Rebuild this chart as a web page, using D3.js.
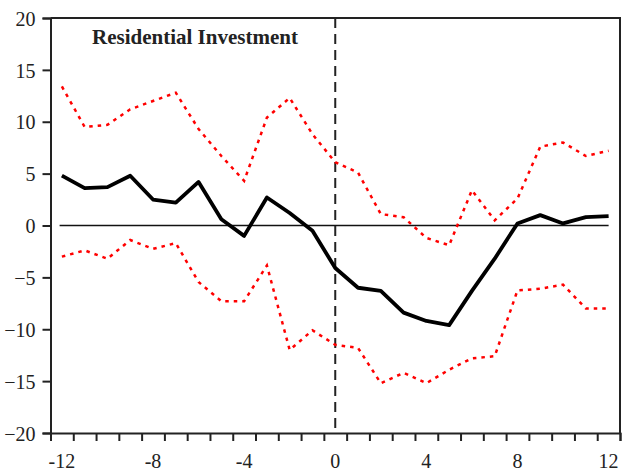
<!DOCTYPE html>
<html>
<head>
<meta charset="utf-8">
<script src="https://cdn.jsdelivr.net/npm/d3@7"></script>
<style>
  body { margin: 0; background: #fff; }
  svg text { font-family: "Liberation Serif", "Times New Roman", serif; fill: #222; }
</style>
</head>
<body>
<svg id="chart" width="622" height="472"></svg>
<script>
// quarters around the event
var quarters = [-12,-11,-10,-9,-8,-7,-6,-5,-4,-3,-2,-1,0,1,2,3,4,5,6,7,8,9,10,11,12];
// point estimate (solid black)
var estimate = [4.8,3.6,3.7,4.8,2.5,2.2,4.2,0.6,-1.0,2.7,1.2,-0.5,-4.1,-6.0,-6.3,-8.4,-9.2,-9.6,-6.3,-3.2,0.2,1.0,0.2,0.8,0.9];
// upper and lower bands (red dotted)
var upper = [13.4,9.5,9.7,11.2,12.0,12.8,9.3,6.7,4.3,10.4,12.3,8.8,6.1,5.1,1.1,0.8,-1.2,-1.9,3.4,0.5,2.6,7.6,8.0,6.7,7.2];
var lower = [-3.0,-2.4,-3.2,-1.4,-2.25,-1.7,-5.45,-7.3,-7.3,-3.85,-12.0,-10.1,-11.5,-11.8,-15.2,-14.2,-15.2,-13.9,-12.8,-12.6,-6.25,-6.1,-5.7,-8.0,-8.0];
var yTicks = [-20,-15,-10,-5,0,5,10,15,20];
var xTicks = [-12,-8,-4,0,4,8,12];
var title = "Residential Investment";

var svg = d3.select("#chart");

var x = d3.scaleLinear().domain([-12.5, 12.5]).range([50.5, 620]);
var y = d3.scaleLinear().domain([-20, 20]).range([433, 18]);

// frame (top and right)
svg.append("path")
  .attr("d", "M" + x(-12.5) + "," + y(20) + "H" + x(12.5) + "V" + y(-20))
  .attr("fill", "none")
  .attr("stroke", "#222")
  .attr("stroke-width", 2);

// y axis
var yAxis = svg.append("g")
  .attr("transform", "translate(" + x(-12.5) + ",0)")
  .call(d3.axisLeft(y).tickValues(yTicks).tickSize(8).tickPadding(7));
yAxis.select(".domain").attr("stroke", "#222").attr("stroke-width", 2);
yAxis.selectAll(".tick line").attr("stroke", "#222").attr("stroke-width", 2);
yAxis.selectAll("text").attr("font-size", 20).attr("font-family", "Liberation Serif").attr("fill", "#222").attr("dy", "0.36em");

// x axis: tick marks at the half quarters, labels every 4
var halfTicks = d3.range(-12.5, 12.51, 1);
var xAxis = svg.append("g")
  .attr("transform", "translate(0," + y(-20) + ")")
  .call(d3.axisBottom(x).tickValues(halfTicks).tickSize(8).tickFormat(""));
xAxis.select(".domain").attr("stroke", "#222").attr("stroke-width", 2);
xAxis.selectAll(".tick line").attr("stroke", "#222").attr("stroke-width", 2);

svg.append("g").selectAll("text")
  .data(xTicks)
  .enter().append("text")
  .attr("x", function(d){ return x(d); })
  .attr("y", 468)
  .attr("text-anchor", "middle")
  .attr("font-size", 20)
  .text(function(d){ return d; });

// zero line
svg.append("line")
  .attr("x1", x(-12.1)).attr("x2", x(12))
  .attr("y1", y(0)).attr("y2", y(0))
  .attr("stroke", "#111")
  .attr("stroke-width", 1.5);

// event line
svg.append("line")
  .attr("x1", x(0)).attr("x2", x(0))
  .attr("y1", y(20)).attr("y2", y(-20))
  .attr("stroke", "#222")
  .attr("stroke-width", 2)
  .attr("stroke-dasharray", "10,6");

var line = d3.line()
  .x(function(d){ return x(d[0]); })
  .y(function(d){ return y(d[1]); });

function series(vals){ return quarters.map(function(q, i){ return [q, vals[i]]; }); }

svg.append("path")
  .datum(series(upper))
  .attr("d", line)
  .attr("fill", "none")
  .attr("stroke", "#ff0000")
  .attr("stroke-width", 2.5)
  .attr("stroke-dasharray", "3.5,5");

svg.append("path")
  .datum(series(lower))
  .attr("d", line)
  .attr("fill", "none")
  .attr("stroke", "#ff0000")
  .attr("stroke-width", 2.5)
  .attr("stroke-dasharray", "3.5,5");

svg.append("path")
  .datum(series(estimate))
  .attr("d", line)
  .attr("fill", "none")
  .attr("stroke", "#000")
  .attr("stroke-width", 3.8)
  .attr("stroke-linejoin", "round");

// title
svg.append("text")
  .attr("x", 92)
  .attr("y", 44)
  .attr("font-size", 21)
  .attr("font-weight", "bold")
  .text(title);
</script>
</body>
</html>
